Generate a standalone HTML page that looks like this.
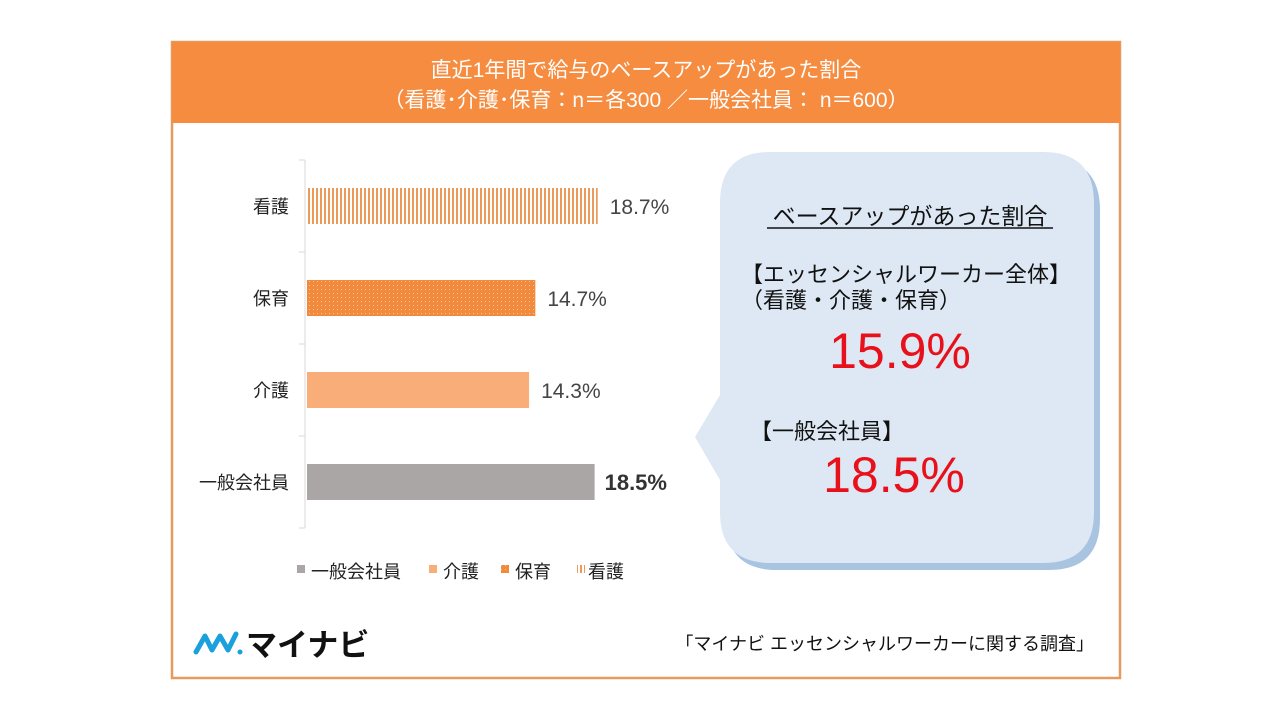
<!DOCTYPE html>
<html><head><meta charset="utf-8">
<style>
body{margin:0;background:#fff;width:1280px;height:720px;overflow:hidden;font-family:"Liberation Sans","Noto Sans CJK JP",sans-serif;}
svg{display:block}
text{font-family:"Liberation Sans","Noto Sans CJK JP",sans-serif;}
</style></head><body>
<svg width="1280" height="720" viewBox="0 0 1280 720">
<defs>
<pattern id="vstripe" width="4" height="4" patternUnits="userSpaceOnUse"><rect width="4" height="4" fill="#fff"/><rect width="2" height="4" fill="#ec9a5a"/></pattern>
<pattern id="dots" width="4" height="4" patternUnits="userSpaceOnUse"><rect width="4" height="4" fill="#f28a3e"/><rect x="1" y="1" width="1" height="1" fill="#f8c49a"/></pattern>
</defs>
<rect x="172" y="42" width="948" height="636" fill="#fff" stroke="#e59a60" stroke-width="2.5"/>
<rect x="172" y="42" width="948" height="81" fill="#f68c40"/>
<text x="646" y="77" text-anchor="middle" font-size="21" fill="#fff">直近1年間で給与のベースアップがあった割合</text>
<text x="646" y="107" text-anchor="middle" font-size="21" fill="#fff">（看護･介護･保育：n＝各300 ／一般会社員： n＝600）</text>
<g id="plot"></g>
<g>
<path d="M776,159 H1049 Q1100,159 1100,210 V519 Q1100,570 1049,570 H777 Q726,570 726,519 V487 L702,444 L726,402 V210 Q726,159 776,159Z" fill="#a9c4e1"/>
<path d="M770,152 H1043 Q1094,152 1094,203 V512 Q1094,563 1043,563 H771 Q720,563 720,512 V480 L695,437 L720,395 V203 Q720,152 770,152Z" fill="#dde8f4"/>
<text x="910" y="224" text-anchor="middle" font-size="23" fill="#111">ベースアップがあった割合</text>
<line x1="767" y1="228" x2="1053" y2="228" stroke="#111" stroke-width="1.5"/>
<text x="741" y="282" font-size="22" fill="#111">【エッセンシャルワーカー全体】</text>
<text x="741" y="308" font-size="22" fill="#111">（看護・介護・保育）</text>
<text x="900" y="368" text-anchor="middle" font-size="50" fill="#e8101a">15.9%</text>
<text x="750" y="439" font-size="22" fill="#111">【一般会社員】</text>
<text x="894" y="492" text-anchor="middle" font-size="50" fill="#e8101a">18.5%</text>
</g>
<g>
<rect x="297" y="565" width="8" height="8" fill="#aaa6a5"/><text x="311" y="578" font-size="18" fill="#222">一般会社員</text>
<rect x="429" y="565" width="8" height="8" fill="#f9ad78"/><text x="443" y="578" font-size="18" fill="#222">介護</text>
<rect x="501" y="565" width="8" height="8" fill="url(#dots)"/><text x="515" y="578" font-size="18" fill="#222">保育</text>
<rect x="577" y="565" width="8" height="8" fill="url(#vstripe)"/><text x="588" y="578" font-size="18" fill="#222">看護</text>
</g>
<g>
<path d="M196,652 L205,636 L212,650 L220,636 L228,650 L236,634" fill="none" stroke="#1aa0dc" stroke-width="5" stroke-linecap="round" stroke-linejoin="round"/>
<circle cx="240" cy="652" r="2.5" fill="#1aa0dc"/>
<text x="246" y="656" font-size="31" font-weight="bold" fill="#111">マイナビ</text>
</g>
<text x="1094" y="650" text-anchor="end" font-size="18" fill="#111">「マイナビ エッセンシャルワーカーに関する調査」</text>
</svg>
<script>
const categories=["看護","保育","介護","一般会社員"];
const values=[18.7,14.7,14.3,18.5];
const valueLabels=["18.7%","14.7%","14.3%","18.5%"];
const fills=["url(#vstripe)","url(#dots)","#f9ad78","#aaa6a5"];
(function(){
const NS="http://www.w3.org/2000/svg";
const g=document.getElementById('plot');
const x0=306, pxPer=15.6, plotTop=160, band=92, barH=36;
const xs=v=>x0+v*pxPer;
const yb=i=>plotTop+i*band;
function mk(t,a){const e=document.createElementNS(NS,t);for(const k in a)e.setAttribute(k,a[k]);g.appendChild(e);return e;}
const ax=mk('line',{x1:x0-1,y1:plotTop,x2:x0-1,y2:yb(categories.length),stroke:'#d9d9d9','stroke-width':1});


for(let i=0;i<=categories.length;i++){const t=mk('line',{x1:x0-7,y1:yb(i),x2:x0-1,y2:yb(i),stroke:'#d9d9d9'});

}
categories.forEach((c,i)=>{
const cy=yb(i)+band/2;
const r=mk('rect',{x:x0+1,y:cy-barH/2,width:xs(values[i])-x0-1,height:barH,fill:fills[i]});


const l=mk('text',{x:289,y:cy+7,'text-anchor':'end','font-size':18,fill:'#222'});l.textContent=c;


const bold=i===3;
const v=mk('text',{x:xs(values[i])+(bold?10:12),y:cy+8,'font-size':bold?22:21,'font-weight':bold?'bold':'normal',fill:bold?'#333':'#444'});v.textContent=valueLabels[i];


});
})();
</script>
</body></html>
